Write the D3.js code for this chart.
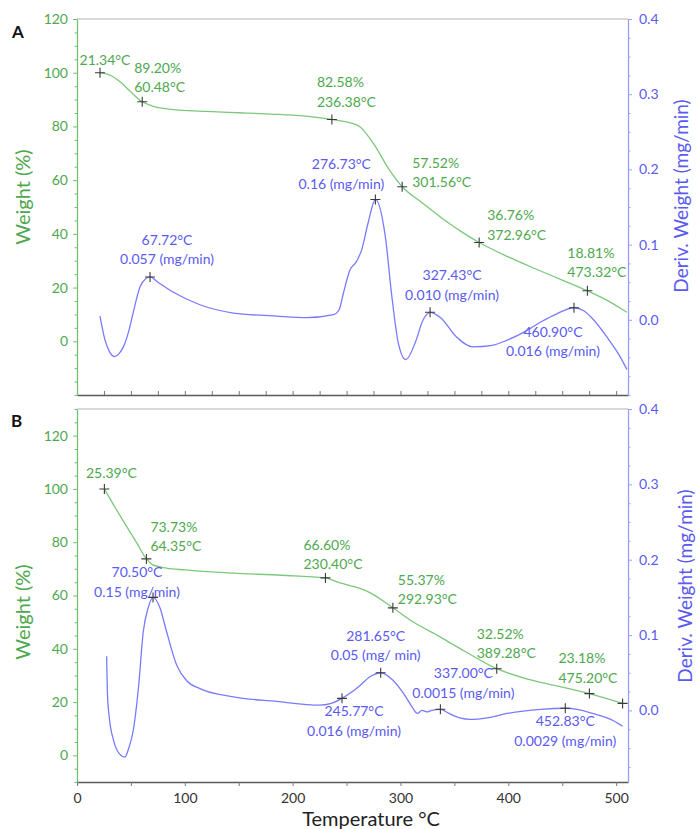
<!DOCTYPE html>
<html>
<head>
<meta charset="utf-8">
<script src="https://cdn.jsdelivr.net/npm/d3@7"></script>
<style>
  body { margin: 0; background: #fff; }
  svg { display: block; }
  text { font-family: Lato, "Open Sans", sans-serif; }
</style>
</head>
<body>
<svg id="chart" width="697" height="829"></svg>
<script>
// ---------- Data ----------
// Thermogravimetric curves: [temperature °C, weight %]
const tgA = [[21.34,100],[30,99.2],[40,96.6],[50,92.8],[60.48,89.2],[70,87.6],[80,86.7],[95,86.1],[120,85.6],
  [150,85.1],[180,84.6],[210,83.9],[236.38,82.58],[250,81.7],[262,80.0],[275,73.6],[290,63.6],[301.56,57.52],
  [318,52.2],[337,46.3],[355,41.2],[372.96,36.76],[400,31.4],[425,27.0],[450,22.8],[473.32,18.81],[490,15.6],[510,10.8]];
const tgB = [[25.39,100],[35,93.3],[45,86.6],[55,80],[64.35,73.73],[70,71.6],[83,70.3],[100,69.6],[145,68.4],
  [190,67.6],[230.4,66.6],[244,64.7],[258,63.2],[272,61],[292.93,55.37],[310,50.5],[337,44.4],[360,39],
  [389.28,32.52],[420,28.4],[450,25.6],[475.2,23.18],[506,19.5]];

// Derivative curves: [temperature °C, deriv. weight mg/min]
const dtgA = [[21.3,0.005],[26,-0.027],[30,-0.042],[35,-0.049],[39,-0.045],[43,-0.036],[48,-0.015],[52,0.009],
  [58.5,0.044],[64,0.055],[67.72,0.057],[75,0.05],[89,0.037],[114,0.02],[145,0.009],[185,0.005],[213,0.003],
  [238,0.007],[243,0.013],[247,0.035],[253,0.066],[259,0.077],[264,0.093],[270,0.129],[276.73,0.16],[286,0.11],
  [292,0.031],[298,-0.031],[305,-0.053],[313.5,-0.031],[321,0],[327.43,0.010],[337,0.003],[352,-0.023],[367,-0.036],
  [385,-0.034],[399,-0.027],[415,-0.016],[430,-0.003],[445,0.008],[460.9,0.016],[470,0.012],[479,0],[492,-0.024],
  [502,-0.045],[510,-0.066]];
const dtgB = [[27.5,0.072],[28.3,0.02],[30,-0.01],[34,-0.04],[39,-0.057],[44.5,-0.062],[48,-0.05],[52,-0.028],
  [57,0.03],[61.5,0.105],[66,0.136],[70.5,0.15],[77,0.136],[83,0.105],[92.5,0.06],[102,0.039],[114,0.029],
  [145,0.018],[185,0.012],[225,0.007],[235,0.009],[245.77,0.016],[260,0.03],[272,0.045],[281.65,0.05],[293,0.04],
  [304,0.02],[311,0.004],[315.5,-0.004],[320,0.0],[324.5,-0.002],[329,0.0],[337,0.0015],[345,-0.004],[355,-0.01],
  [365,-0.012],[380,-0.01],[399,-0.004],[430,0.0015],[452.83,0.0029],[465,0.001],[478,-0.004],[495,-0.012],[506,-0.021]];

// Marked points: [temperature, value, label line 1, label line 2]
const tgMarksA = [[21.34,100,"21.34°C"],[60.48,89.20,"89.20%","60.48°C"],[236.38,82.58,"82.58%","236.38°C"],
  [301.56,57.52,"57.52%","301.56°C"],[372.96,36.76,"36.76%","372.96°C"],[473.32,18.81,"18.81%","473.32°C"]];
const dtgMarksA = [[67.72,0.057,"67.72°C","0.057 (mg/min)"],[276.73,0.16,"276.73°C","0.16 (mg/min)"],
  [327.43,0.010,"327.43°C","0.010 (mg/min)"],[460.90,0.016,"460.90°C","0.016 (mg/min)"]];
const tgMarksB = [[25.39,100,"25.39°C"],[64.35,73.73,"73.73%","64.35°C"],[230.40,66.60,"66.60%","230.40°C"],
  [292.93,55.37,"55.37%","292.93°C"],[389.28,32.52,"32.52%","389.28°C"],[475.20,23.18,"23.18%","475.20°C"],[506,19.5]];
const dtgMarksB = [[70.50,0.15,"70.50°C","0.15 (mg/min)"],[245.77,0.016,"245.77°C","0.016 (mg/min)"],
  [281.65,0.05,"281.65°C","0.05 (mg/ min)"],[337.00,0.0015,"337.00°C","0.0015 (mg/min)"],
  [452.83,0.0029,"452.83°C","0.0029 (mg/min)"]];

// Tick labels
const tempTicks = [0,100,200,300,400,500];
const weightTicks = [0,20,40,60,80,100,120];
const derivTicks = [0,0.1,0.2,0.3,0.4];

// ---------- Label placement (offset from the marker, px) ----------
const labelPosTgA = [[5,-13,"middle"],[-8,-34,"start"],[-15,-37,"start"],[10,-24,"start"],[8,-27,"start"],[-20,-38,"start"]];
const labelPosDtgA = [[17,-37,"middle"],[-34,-35,"middle"],[22,-37,"middle"],[-21,24,"middle"]];
const labelPosTgB = [[7,-16,"middle"],[4,-32,"start"],[-22,-33,"start"],[5,-28,"start"],[-20,-35,"start"],[-31,-35,"start"],null];
const labelPosDtgB = [[-16,-25,"middle"],[12,13,"middle"],[-5,-37,"middle"],[23,-36,"middle"],[0,13,"middle"]];

// ---------- Styling ----------
const GREEN_TXT = "#4ea84e", GREEN_LINE = "#7cc87c", GREEN_AXIS = "#74c274";
const BLUE_TXT = "#5a5af2", BLUE_LINE = "#7a7aff", BLUE_AXIS = "#9c9cff";
const LINE_GAP = 19.5;

const svg = d3.select("#chart");
const x = d3.scaleLinear().domain([0, 511]).range([77, 628]);

const panels = [
  { name: "A", top: 19, bottom: 395, wDomain: [-20, 120], dDomain: [-0.1, 0.4],
    tg: tgA, dtg: dtgA, tgMarks: tgMarksA, dtgMarks: dtgMarksA, tgPos: labelPosTgA, dtgPos: labelPosDtgA,
    labelXY: [12, 38], wTitleY: 197, dTitleX: 688, dTitleY: 196, xLabels: false },
  { name: "B", top: 409, bottom: 782, wDomain: [-10, 130], dDomain: [-0.095, 0.4],
    tg: tgB, dtg: dtgB, tgMarks: tgMarksB, dtgMarks: dtgMarksB, tgPos: labelPosTgB, dtgPos: labelPosDtgB,
    labelXY: [11, 427], wTitleY: 612, dTitleX: 692, dTitleY: 586, xLabels: true }
];

function minorValues(domain, step, majors) {
  const lo = Math.ceil(domain[0] / step - 1e-9) * step;
  return d3.range(lo, domain[1] + step * 0.01, step)
    .filter(v => !majors.some(m => Math.abs(m - v) < step * 0.01));
}

function crossMark(g, px, py) {
  g.append("path")
    .attr("d", `M${px - 5},${py}H${px + 5}M${px},${py - 5}V${py + 5}`)
    .attr("stroke", "#3a3a3a").attr("stroke-width", 1.1).attr("fill", "none");
}

function labels(g, marks, pos, xs, ys, color) {
  marks.forEach((m, i) => {
    const p = pos[i];
    if (!p || m.length < 3) return;
    const px = xs(m[0]), py = ys(m[1]);
    m.slice(2).forEach((t, k) => {
      g.append("text")
        .attr("x", px + p[0]).attr("y", py + p[1] + k * LINE_GAP)
        .attr("dy", "0.35em").attr("text-anchor", p[2])
        .attr("fill", color).attr("font-size", 14)
        .text(t);
    });
  });
}

panels.forEach(p => {
  const g = svg.append("g");
  const yW = d3.scaleLinear().domain(p.wDomain).range([p.bottom, p.top]);
  const yD = d3.scaleLinear().domain(p.dDomain).range([p.bottom, p.top]);

  // top frame
  g.append("line").attr("x1", x(0)).attr("x2", x(511)).attr("y1", p.top).attr("y2", p.top)
    .attr("stroke", "#b4b4b4").attr("stroke-width", 1.2);

  // temperature axis
  const xg = g.append("g").attr("transform", `translate(0,${p.bottom})`);
  if (p.xLabels) {
    xg.call(d3.axisBottom(x).tickValues(d3.range(0, 501, 50)).tickSize(4).tickSizeOuter(0)
      .tickFormat(d => tempTicks.includes(d) ? d : ""));
  } else {
    xg.call(d3.axisBottom(x).tickValues(d3.range(0, 501, 25)).tickSize(-4).tickSizeOuter(0).tickFormat(""));
  }
  xg.select(".domain").attr("stroke", "#5a5a5a").attr("stroke-width", 1.3);
  xg.selectAll(".tick line").attr("stroke", "#777");
  xg.selectAll(".tick text").attr("fill", "#333").attr("font-size", 14).attr("dy", "1em")
    .attr("font-family", "Lato, sans-serif");

  // weight axis (left)
  const lg = g.append("g").attr("transform", `translate(${x(0)},0)`);
  lg.call(d3.axisLeft(yW).tickValues(weightTicks).tickSize(4).tickSizeOuter(0).tickPadding(5));
  lg.append("g").call(d3.axisLeft(yW).tickValues(minorValues(p.wDomain, 5, weightTicks)).tickSize(2.5).tickFormat(""))
    .select(".domain").remove();
  lg.selectAll(".domain").attr("stroke", GREEN_AXIS).attr("stroke-width", 1.3);
  lg.selectAll(".tick line").attr("stroke", GREEN_AXIS);
  lg.selectAll(".tick text").attr("fill", GREEN_TXT).attr("font-size", 14).attr("font-family", "Lato, sans-serif");

  // derivative axis (right)
  const rg = g.append("g").attr("transform", `translate(${x(511)},0)`);
  rg.call(d3.axisRight(yD).tickValues(derivTicks).tickSize(4).tickSizeOuter(0).tickPadding(7)
    .tickFormat(d3.format(".1f")));
  rg.append("g").call(d3.axisRight(yD).tickValues(minorValues(p.dDomain, 0.025, derivTicks)).tickSize(2.5).tickFormat(""))
    .select(".domain").remove();
  rg.selectAll(".domain").attr("stroke", BLUE_AXIS).attr("stroke-width", 1.3);
  rg.selectAll(".tick line").attr("stroke", BLUE_AXIS);
  rg.selectAll(".tick text").attr("fill", BLUE_TXT).attr("font-size", 14).attr("font-family", "Lato, sans-serif");

  // curves
  g.append("path").datum(p.tg)
    .attr("d", d3.line().x(d => x(d[0])).y(d => yW(d[1])).curve(d3.curveMonotoneX))
    .attr("fill", "none").attr("stroke", GREEN_LINE).attr("stroke-width", 1.3);
  g.append("path").datum(p.dtg)
    .attr("d", d3.line().x(d => x(d[0])).y(d => yD(d[1])).curve(d3.curveMonotoneX))
    .attr("fill", "none").attr("stroke", BLUE_LINE).attr("stroke-width", 1.3);

  // markers and their labels
  p.tgMarks.forEach(m => crossMark(g, x(m[0]), yW(m[1])));
  p.dtgMarks.forEach(m => crossMark(g, x(m[0]), yD(m[1])));
  labels(g, p.tgMarks, p.tgPos, x, yW, GREEN_TXT);
  labels(g, p.dtgMarks, p.dtgPos, x, yD, BLUE_TXT);

  // panel letter
  g.append("text").attr("x", p.labelXY[0]).attr("y", p.labelXY[1])
    .attr("font-size", 17).attr("font-weight", "bold").attr("fill", "#111").text(p.name);

  // axis titles
  g.append("text").attr("transform", `translate(30,${p.wTitleY}) rotate(-90)`)
    .attr("text-anchor", "middle").attr("fill", GREEN_TXT).attr("font-size", 20).text("Weight (%)");
  g.append("text").attr("transform", `translate(${p.dTitleX},${p.dTitleY}) rotate(-90)`)
    .attr("text-anchor", "middle").attr("fill", BLUE_TXT).attr("font-size", 19).text("Deriv. Weight (mg/min)");
});

svg.append("text").attr("x", 371).attr("y", 826).attr("text-anchor", "middle")
  .attr("fill", "#222").attr("font-size", 20).text("Temperature °C");
</script>
</body>
</html>
